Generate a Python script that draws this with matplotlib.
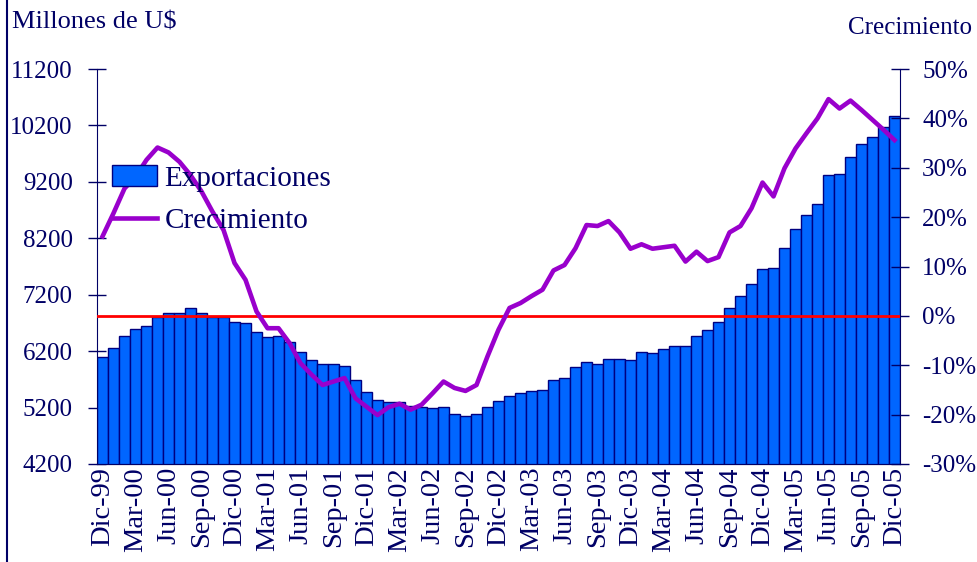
import numpy as np
import matplotlib
matplotlib.use("Agg")
import matplotlib.pyplot as plt
from matplotlib.lines import Line2D
from matplotlib.ticker import FuncFormatter

plt.rcParams['font.family'] = ['Liberation Serif', 'DejaVu Serif']

navy = '#000066'

# ===== datos (Dic-99 .. Dic-05, mensual) =====
exportaciones = [
    6100, 6250, 6475, 6600, 6650, 6800, 6870, 6870, 6960, 6870, 6800, 6800,
    6720, 6690, 6545, 6445, 6470, 6370, 6190, 6045, 5965, 5965, 5940, 5690,
    5470, 5335, 5305, 5290, 5235, 5215, 5185, 5215, 5085, 5055, 5085, 5215,
    5315, 5410, 5450, 5495, 5510, 5690, 5720, 5925, 6015, 5970, 6065, 6065,
    6045, 6190, 6165, 6245, 6295, 6295, 6470, 6570, 6715, 6970, 7170, 7395,
    7655, 7680, 8030, 8360, 8610, 8805, 9315, 9340, 9640, 9865, 9995, 10175,
    10370,
]
crecimiento = [
    16.1, 20.8, 25.8, 28.2, 31.6, 34.1, 33.1, 31.2, 28.5, 25.2, 21.1, 17.4,
    10.7, 7.3, 0.9, -2.5, -2.5, -5.5, -9.6, -11.9, -14.0, -13.3, -12.6, -16.7,
    -18.4, -20.1, -18.5, -17.8, -19.0, -18.0, -15.7, -13.3, -14.6, -15.2, -14.0, -8.2,
    -2.8, 1.6, 2.6, 4.0, 5.3, 9.2, 10.3, 13.7, 18.4, 18.2, 19.2, 16.9,
    13.6, 14.5, 13.6, 13.9, 14.2, 11.0, 13.0, 11.1, 11.9, 16.9, 18.2, 21.8,
    27.0, 24.2, 29.9, 33.9, 37.0, 40.0, 43.9, 42.0, 43.6, 41.7, 39.7, 37.7,
    35.6,
]
meses = ['Dic', 'Mar', 'Jun', 'Sep']
etiquetas = []
for i in range(0, 73, 3):
    anio = (99 + (i + 11) // 12) % 100
    etiquetas.append(f"{meses[(i // 3) % 4]}-{anio:02d}")

x = np.arange(len(exportaciones))

# ===== figura =====
fig = plt.figure(figsize=(9.77, 5.62), dpi=100)
ax = fig.add_axes([0.0993, 0.1744, 0.8219, 0.7028])
ax2 = ax.twinx()

ax.bar(x, exportaciones, width=1.0, color='#0066FF', edgecolor='#000080',
       linewidth=1.0, label='Exportaciones', zorder=2)
ax2.axhline(0, color='#FF0000', lw=2, zorder=3)
ax2.plot(x, np.array(crecimiento) / 100, color='#9900CC', lw=3.3,
         label='Crecimiento', zorder=4)

ax.set_xlim(-0.5, len(x) - 0.5)
ax.set_ylim(4200, 11200)
ax.set_yticks(np.arange(4200, 11201, 1000))
ax2.set_ylim(-0.3, 0.5)
ax2.set_yticks(np.arange(-0.3, 0.51, 0.1))
ax2.yaxis.set_major_formatter(FuncFormatter(lambda v, p: f"{v*100:.0f}%"))

ax.set_xticks(x[::3])
ax.set_xticklabels(etiquetas, rotation=90, fontsize=20.5, color=navy)

for a in (ax, ax2):
    a.spines['top'].set_visible(False)
    for s in ('left', 'right', 'bottom'):
        a.spines[s].set_color(navy)
    a.tick_params(axis='y', direction='inout', length=13, width=1,
                  colors=navy, labelsize=18)
    a.tick_params(axis='x', length=0, colors=navy, pad=2)
ax.tick_params(axis='y', pad=11)
ax2.tick_params(axis='y', pad=9.5)
ax.spines['right'].set_visible(False)
ax2.spines['left'].set_visible(False)

fig.text(0.012, 0.96, "Millones de U$", fontsize=19, color=navy, va='center')
fig.text(0.995, 0.95, "Crecimiento", fontsize=18, color=navy, va='center', ha='right')

# leyenda
h1, l1 = ax.get_legend_handles_labels()
h2, l2 = ax2.get_legend_handles_labels()
ax2.legend(h1 + h2, l1 + l2, loc='upper left', bbox_to_anchor=(0.0187, 0.757),
           frameon=False, fontsize=21, labelcolor=navy, handlelength=1.55,
           handleheight=0.72, handletextpad=0.25, labelspacing=0.55,
           borderpad=0, borderaxespad=0)

# línea de borde a la izquierda
fig.add_artist(Line2D([6.5 / 977, 6.5 / 977], [0, 1], color=navy, lw=1.5))

fig.savefig("out.png", dpi=100)
